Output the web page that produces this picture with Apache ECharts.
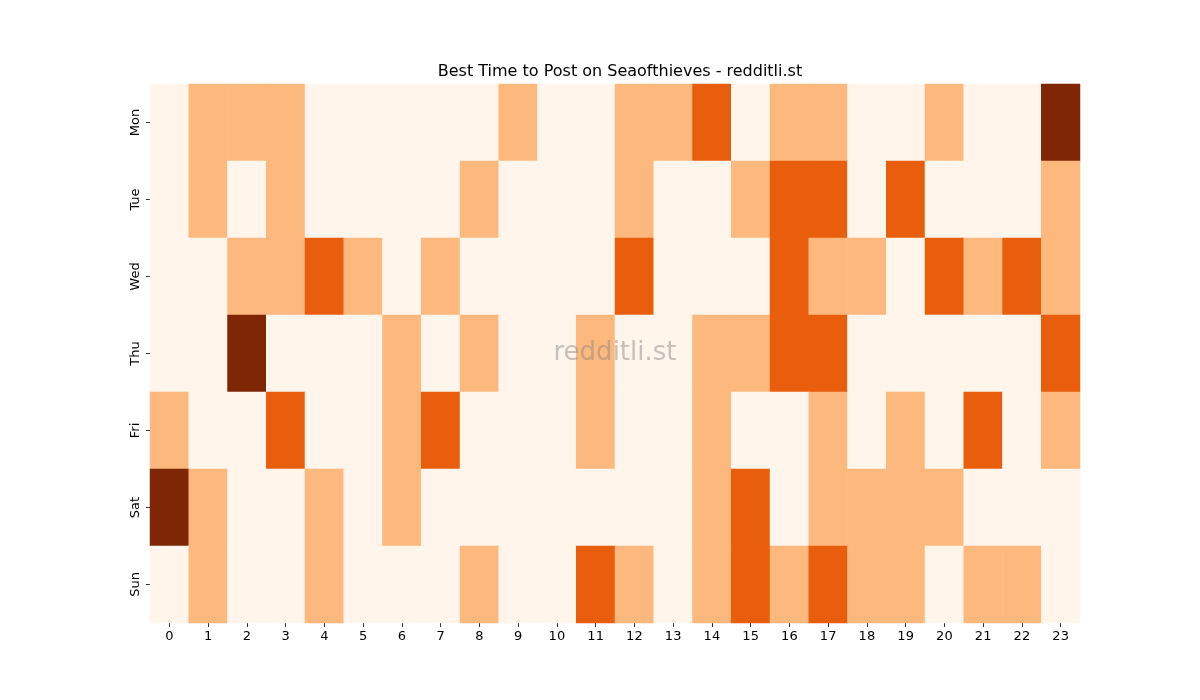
<!DOCTYPE html>
<html>
<head>
<meta charset="utf-8">
<script src="https://cdn.jsdelivr.net/npm/echarts@6/dist/echarts.min.js"></script>
<style>html,body{margin:0;padding:0;background:#fff}#c{width:1200px;height:700px}</style>
</head>
<body>
<div id="c"></div>
<script>
const hours = ['0','1','2','3','4','5','6','7','8','9','10','11','12','13','14','15','16','17','18','19','20','21','22','23'];
const days = ['Mon','Tue','Wed','Thu','Fri','Sat','Sun'];
const mon = [0,1,1,1,0,0,0,0,0,1,0,0,1,1,2,0,1,1,0,0,1,0,0,3];
const tue = [0,1,0,1,0,0,0,0,1,0,0,0,1,0,0,1,2,2,0,2,0,0,0,1];
const wed = [0,0,1,1,2,1,0,1,0,0,0,0,2,0,0,0,2,1,1,0,2,1,2,1];
const thu = [0,0,3,0,0,0,1,0,1,0,0,1,0,0,1,1,2,2,0,0,0,0,0,2];
const fri = [1,0,0,2,0,0,1,2,0,0,0,1,0,0,1,0,0,1,0,1,0,2,0,1];
const sat = [3,1,0,0,1,0,1,0,0,0,0,0,0,0,1,2,0,1,1,1,1,0,0,0];
const sun = [0,1,0,0,1,0,0,0,1,0,0,2,1,0,1,2,1,2,1,1,0,1,1,0];
const rows = [mon,tue,wed,thu,fri,sat,sun];

const data = [];
rows.forEach((r, y) => r.forEach((v, x) => data.push([x, y, v])));

const chart = echarts.init(document.getElementById('c'));
const font = 'DejaVu Sans';
chart.setOption({
  animation: false,
  backgroundColor: '#fff',
  title: {
    text: 'Best Time to Post on Seaofthieves - redditli.st',
    left: 615, top: 59, textAlign: 'center',
    textStyle: {fontFamily: font, fontSize: 16, fontWeight: 'normal', color: '#000'}
  },
  grid: {left: 150, right: 120, top: 84, bottom: 77},
  xAxis: {
    type: 'category', data: hours,
    axisLine: {show: false},
    axisTick: {show: true, alignWithLabel: true, length: 4, lineStyle: {color: '#333'}},
    axisLabel: {fontFamily: font, fontSize: 13, color: '#000', margin: 7, interval: 0},
    splitLine: {show: false}
  },
  yAxis: {
    type: 'category', data: days, inverse: true,
    axisLine: {show: false},
    axisTick: {show: true, alignWithLabel: true, length: 4, lineStyle: {color: '#333'}},
    axisLabel: {fontFamily: font, fontSize: 13, color: '#000', rotate: 90, margin: 8, interval: 0},
    splitLine: {show: false}
  },
  visualMap: {
    show: false, type: 'piecewise', dimension: 2,
    pieces: [
      {value: 0, color: '#fff5eb'},
      {value: 1, color: '#fdb97d'},
      {value: 2, color: '#e95e0d'},
      {value: 3, color: '#7f2704'}
    ]
  },
  series: [{
    type: 'heatmap', data: data,
    itemStyle: {borderWidth: 0},
    emphasis: {disabled: true}
  }],
  graphic: [{
    type: 'text', x: 615, y: 353,
    style: {
      text: 'redditli.st',
      fontFamily: font, fontSize: 26, fill: 'rgba(128,128,128,0.45)',
      align: 'center', verticalAlign: 'middle'
    },
    z: 100
  }]
});
</script>
</body>
</html>
